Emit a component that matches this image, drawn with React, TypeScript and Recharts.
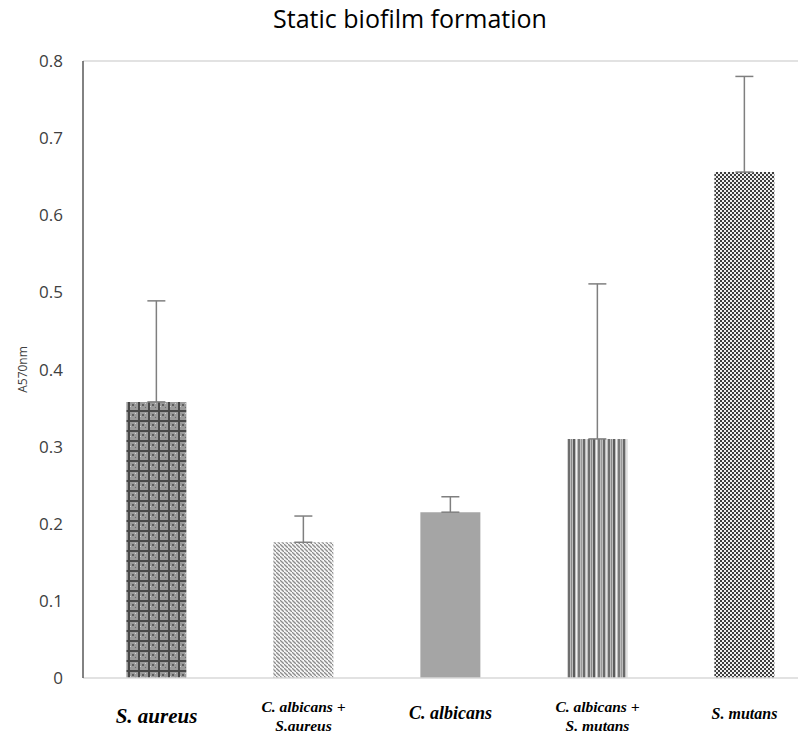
import React from "react";
import {
  BarChart,
  Bar,
  XAxis,
  YAxis,
  Cell,
  ErrorBar,
  ReferenceLine,
  Label,
} from "recharts";

// values
const organisms = [
  "S. aureus",
  "C. albicans +\nS.aureus",
  "C. albicans",
  "C. albicans +\nS. mutans",
  "S. mutans",
];
const absorbance = [0.358, 0.176, 0.215, 0.31, 0.656];
const sdPlus = [0.131, 0.034, 0.02, 0.201, 0.124];
const yTicks = [0, 0.1, 0.2, 0.3, 0.4, 0.5, 0.6, 0.7, 0.8];

const barFills = ["url(#plaid)", "url(#diag)", "#a5a5a5", "url(#stripes)", "url(#checker)"];
const labelSizes = [21, 15.5, 18, 15.5, 16];

const data = organisms.map((name, i) => ({
  name,
  value: absorbance[i],
  err: [0, sdPlus[i]],
}));

const XTick = (props: any) => {
  const { x, y, payload, index } = props;
  const lines = String(payload.value).split("\n");
  const size = labelSizes[index] || 16;
  const startY = lines.length > 1 ? y + 26 : y + (index === 0 ? 37 : 33);
  return (
    <text
      x={x}
      y={startY}
      textAnchor="middle"
      fontFamily="'Liberation Serif', 'DejaVu Serif', serif"
      fontWeight="bold"
      fontStyle="italic"
      fontSize={size}
      fill="#000"
    >
      {lines.map((l, i) => (
        <tspan key={i} x={x} dy={i === 0 ? 0 : 19}>
          {l}
        </tspan>
      ))}
    </text>
  );
};

const Patterns = () => (
  <defs>
    <pattern id="plaid" width="10" height="10" patternUnits="userSpaceOnUse">
      <rect width="10" height="10" fill="#9a9a9a" />
      <rect x="0" y="0" width="10" height="2" fill="#484848" />
      <rect x="0" y="0" width="2" height="10" fill="#484848" />
      <rect x="4" y="4" width="2" height="2" fill="#5e5e5e" />
      <rect x="2" y="6" width="1" height="1" fill="#d0d0d0" />
      <rect x="7" y="3" width="1" height="1" fill="#d0d0d0" />
      <rect x="7" y="7" width="1" height="1" fill="#6a6a6a" />
    </pattern>
    <pattern id="diag" width="4" height="4" patternUnits="userSpaceOnUse">
      <rect width="4" height="4" fill="#f4f4f4" />
      <path d="M-1,-1 l2,2 M0,0 l4,4 M3,3 l2,2" stroke="#8c8c8c" strokeWidth="1.3" />
    </pattern>
    <pattern id="stripes" width="20" height="4" patternUnits="userSpaceOnUse">
      <rect width="20" height="4" fill="#bdbdbd" />
      <rect x="0" width="2" height="4" fill="#6e6e6e" />
      <rect x="3" width="1" height="4" fill="#8a8a8a" />
      <rect x="5" width="2" height="4" fill="#5c5c5c" />
      <rect x="8" width="1" height="4" fill="#f2f2f2" />
      <rect x="10" width="2" height="4" fill="#7a7a7a" />
      <rect x="13" width="1" height="4" fill="#9a9a9a" />
      <rect x="15" width="2" height="4" fill="#686868" />
      <rect x="18" width="1" height="4" fill="#e0e0e0" />
    </pattern>
    <pattern id="checker" width="4" height="4" patternUnits="userSpaceOnUse">
      <rect width="4" height="4" fill="#f0f0f0" />
      <rect x="0" y="0" width="2" height="2" fill="#3e3e3e" />
      <rect x="2" y="2" width="2" height="2" fill="#3e3e3e" />
    </pattern>
  </defs>
);

const App: React.FC = () => {
  return (
    <div
      style={{
        position: "relative",
        width: 798,
        height: 733,
        marginTop: -8,
        overflow: "hidden",
      }}
    >
      <div
        style={{
          position: "absolute",
          top: 2,
          left: 0,
          width: 804,
          textAlign: "center",
          fontFamily: "'Liberation Sans Narrow', 'Open Sans', sans-serif",
          fontSize: 25,
          lineHeight: "32px",
          color: "#000",
        }}
      >
        Static biofilm formation
      </div>
      <BarChart
        width={830}
        height={733}
        data={data}
        margin={{ top: 61, right: 20, bottom: 0, left: 0 }}
        barCategoryGap="29.5%"
      >
        <Patterns />
        <XAxis
          dataKey="name"
          interval={0}
          height={55}
          tickLine={false}
          axisLine={{ stroke: "#d9d9d9", strokeWidth: 1.5 }}
          tick={<XTick />}
        />
        <YAxis
          domain={[0, 0.8]}
          ticks={yTicks}
          width={75}
          tickLine={false}
          axisLine={{ stroke: "#595959", strokeWidth: 1.5 }}
          tickMargin={14}
          tickFormatter={(v: number) => (v === 0 ? "0" : v.toFixed(1))}
          tick={{ fontSize: 17, fill: "#404040", fontFamily: "'Open Sans', sans-serif" }}
        >
          <Label
            content={(p: any) => {
              const vb = p.viewBox || {};
              const cx = 14;
              const cy = (vb.y || 0) + (vb.height || 0) / 2;
              return (
                <text
                  x={cx}
                  y={cy}
                  transform={`rotate(-90, ${cx}, ${cy})`}
                  textAnchor="middle"
                  dominantBaseline="central"
                  fontSize={12}
                  fill="#404040"
                  fontFamily="'Liberation Sans Narrow', 'Open Sans', sans-serif"
                >
                  A570nm
                </text>
              );
            }}
          />
        </YAxis>
        <ReferenceLine y={0.8} stroke="#d9d9d9" strokeWidth={1.5} />
        <Bar dataKey="value" isAnimationActive={false}>
          {data.map((_, i) => (
            <Cell key={i} fill={barFills[i]} />
          ))}
          <ErrorBar dataKey="err" direction="y" width={9} stroke="#7f7f7f" strokeWidth={1.5} />
        </Bar>
      </BarChart>
    </div>
  );
};

export default App;
